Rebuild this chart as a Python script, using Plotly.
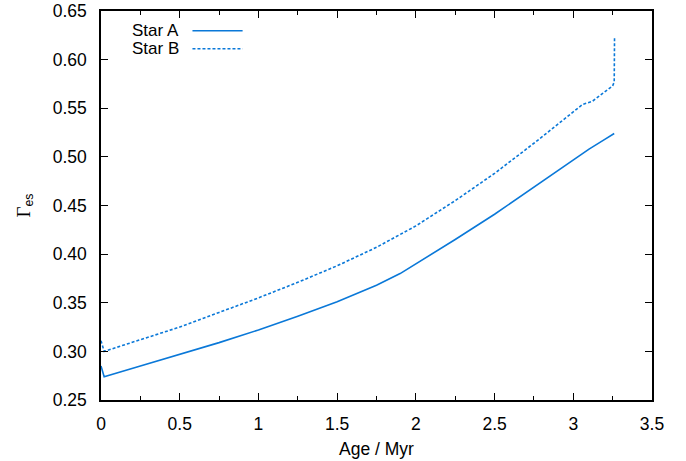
import plotly.graph_objects as go

age_a = [0.0, 0.02, 0.25, 0.5, 0.75, 1.0, 1.25, 1.5, 1.75, 1.9, 2.0, 2.25, 2.5, 2.75, 3.0, 3.1, 3.2, 3.25, 3.26]
gamma_a = [0.285, 0.274, 0.285, 0.297, 0.309, 0.322, 0.336, 0.351, 0.368, 0.380, 0.390, 0.415, 0.441, 0.469, 0.497, 0.508, 0.518, 0.523, 0.524]

age_b = [0.0, 0.02, 0.25, 0.5, 0.75, 1.0, 1.25, 1.5, 1.75, 2.0, 2.25, 2.5, 2.75, 3.0, 3.06, 3.12, 3.17, 3.25, 3.26, 3.262]
gamma_b = [0.311, 0.300, 0.312, 0.325, 0.340, 0.355, 0.371, 0.388, 0.407, 0.429, 0.455, 0.483, 0.514, 0.546, 0.554, 0.557, 0.563, 0.573, 0.577, 0.622]

series_names = ["Star A", "Star B"]
color = "#0a78d8"
font = "Liberation Sans, Arial, sans-serif"

fig = go.Figure()
fig.add_trace(go.Scatter(x=age_a, y=gamma_a, mode="lines", name=series_names[0],
                         line=dict(color=color, width=1.6), showlegend=False))
fig.add_trace(go.Scatter(x=age_b, y=gamma_b, mode="lines", name=series_names[1],
                         line=dict(color=color, width=1.6, dash="3px,2px"), showlegend=False))

# gnuplot-style legend: text right-aligned, sample line to the right
leg_y = [0.949, 0.903]
for name, yy, dash in zip(series_names, leg_y, ["solid", "3px,2px"]):
    fig.add_annotation(x=0.146, y=yy, xref="paper", yref="paper", text=name,
                       showarrow=False, xanchor="right", yanchor="middle",
                       font=dict(family=font, size=17, color="black"))
    fig.add_shape(type="line", xref="paper", yref="paper", x0=0.166, x1=0.257, y0=yy, y1=yy,
                  line=dict(color=color, width=1.5, dash=dash))

axis_common = dict(showgrid=False, zeroline=False, showline=True, linecolor="black", linewidth=1.5,
                   mirror="ticks", ticks="inside", tickcolor="black", tickwidth=1.2, ticklen=7,
                   tickfont=dict(family=font, size=17.5, color="black"), automargin=False)

fig.update_xaxes(range=[0, 3.5], dtick=0.5, tickformat="~g", ticklabelstandoff=7,
                 minor=dict(ticks="inside", dtick=0.25, ticklen=4, tickcolor="black", tickwidth=1.2),
                 title=dict(text="Age / Myr", font=dict(family=font, size=17.5, color="black"), standoff=10),
                 **axis_common)
fig.update_yaxes(range=[0.25, 0.65], dtick=0.05, tickformat=".2f", ticklabelstandoff=9,
                 title=dict(text="<span style='font-family:Liberation Serif,Times New Roman,serif;font-size:19px'>Γ</span><sub>es</sub>",
                            font=dict(family=font, size=17.5, color="black"), standoff=18),
                 **axis_common)

fig.update_layout(width=686, height=461, margin=dict(l=101, r=34, t=11, b=61),
                  plot_bgcolor="white", paper_bgcolor="white", font=dict(family=font))

fig.write_html("out.html")
